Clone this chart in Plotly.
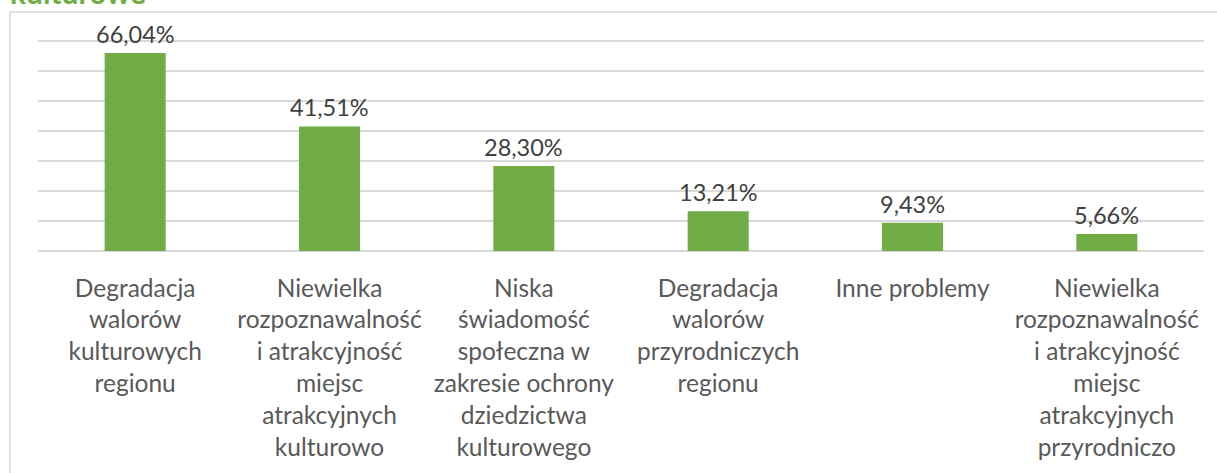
import plotly.graph_objects as go

categories = [
    "Degradacja<br>walorów<br>kulturowych<br>regionu",
    "Niewielka<br>rozpoznawalność<br>i atrakcyjność<br>miejsc<br>atrakcyjnych<br>kulturowo",
    "Niska<br>świadomość<br>społeczna w<br>zakresie ochrony<br>dziedzictwa<br>kulturowego",
    "Degradacja<br>walorów<br>przyrodniczych<br>regionu",
    "Inne problemy",
    "Niewielka<br>rozpoznawalność<br>i atrakcyjność<br>miejsc<br>atrakcyjnych<br>przyrodniczo",
]
values = [66.04, 41.51, 28.30, 13.21, 9.43, 5.66]
value_labels = ["66,04%", "41,51%", "28,30%", "13,21%", "9,43%", "5,66%"]
grid_values = [10, 20, 30, 40, 50, 60, 70]
title_text = "kulturowe"

GREEN = "#70AD47"
GRID = "#D9D9D9"
FONT = "Lato"

PLOT_TOP, PLOT_BOTTOM = 38, 251
PH = PLOT_BOTTOM - PLOT_TOP
PL, PR = 38, 1204
PW = PR - PL

fig = go.Figure(
    go.Bar(
        x=categories,
        y=values,
        marker=dict(color=GREEN, line=dict(width=0)),
        cliponaxis=False,
        hoverinfo="skip",
    )
)

for cat, val, lab in zip(categories, values, value_labels):
    fig.add_annotation(
        x=cat, y=val, text=lab, xref="x", yref="y",
        xanchor="center", yanchor="bottom", yshift=3,
        showarrow=False, font=dict(family=FONT, size=23.5, color="#404040"),
    )

fig.update_layout(
    width=1217,
    height=473,
    margin=dict(l=PL, r=1217 - PR, t=PLOT_TOP, b=473 - PLOT_BOTTOM, autoexpand=False, pad=0),
    paper_bgcolor="white",
    plot_bgcolor="white",
    bargap=0.686,
    showlegend=False,
    font=dict(family=FONT, size=24.5, color="#595959"),
)
fig.update_xaxes(
    automargin=False,
    showgrid=False,
    showline=False,
    ticks="",
    tickfont=dict(family=FONT, size=24.5, color="#595959"),
    ticklabelstandoff=20,
)
fig.update_yaxes(
    automargin=False,
    range=[0, 71],
    tickvals=grid_values,
    showticklabels=False,
    showgrid=True,
    gridcolor=GRID,
    gridwidth=1.5,
    zeroline=True,
    zerolinecolor=GRID,
    zerolinewidth=1.5,
    showline=False,
)

# outer chart border
fig.add_shape(
    type="rect", xref="paper", yref="paper",
    x0=(10 - PL) / PW, x1=(1230 - PL) / PW,
    y0=(PLOT_BOTTOM - 490) / PH, y1=(PLOT_BOTTOM - 12) / PH,
    line=dict(color=GRID, width=1.5), fillcolor="rgba(0,0,0,0)", layer="below",
)

fig.add_annotation(
    text="<b>" + title_text + "</b>", xref="paper", yref="paper",
    x=(8 - PL) / PW, y=(PLOT_BOTTOM - 12) / PH, xanchor="left", yanchor="bottom",
    showarrow=False, font=dict(family=FONT, size=30, color=GREEN),
)

fig.write_html(
    "out.html",
    config={"displayModeBar": False},
    post_script="document.body.style.margin='0';",
)
